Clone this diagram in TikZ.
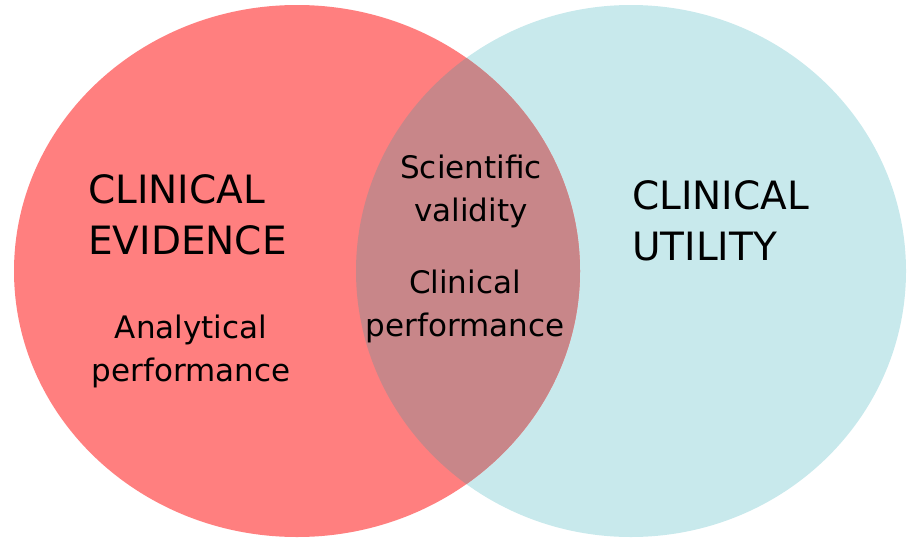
\documentclass[tikz,border=0pt]{standalone}
\usepackage{fontspec}
\setmainfont{DejaVu Sans}
\definecolor{evred}{RGB}{255,127,127}
\definecolor{utblue}{RGB}{200,233,236}
\definecolor{overlap}{RGB}{200,134,137}

\begin{document}
\begin{tikzpicture}[x=1pt, y=-1pt,
  title/.style = {anchor=base west, align=left, inner sep=0pt, font=\fontsize{39}{51}\selectfont},
  item/.style = {anchor=base, align=center, inner sep=0pt, font=\fontsize{31}{43}\selectfont}]
\useasboundingbox (0,0) rectangle (907,538);
\fill[utblue] (631,271) ellipse [x radius=275, y radius=266];
\fill[evred] (297,271) ellipse [x radius=283, y radius=266];
\begin{scope}
\clip (297,271) ellipse [x radius=283, y radius=266];
\fill[overlap] (631,271) ellipse [x radius=275, y radius=266];
\end{scope}
\node[title] (evidence) at (88,254) {CLINICAL\\EVIDENCE};
\node[title] (utility) at (632,260) {CLINICAL\\UTILITY};
\node[item] (analytical) at (191,381) {Analytical\\performance};
\node[item] (validity) at (471,221) {Scientific\\validity};
\node[item] (performance) at (465,336) {Clinical\\performance};
\end{tikzpicture}
\end{document}
